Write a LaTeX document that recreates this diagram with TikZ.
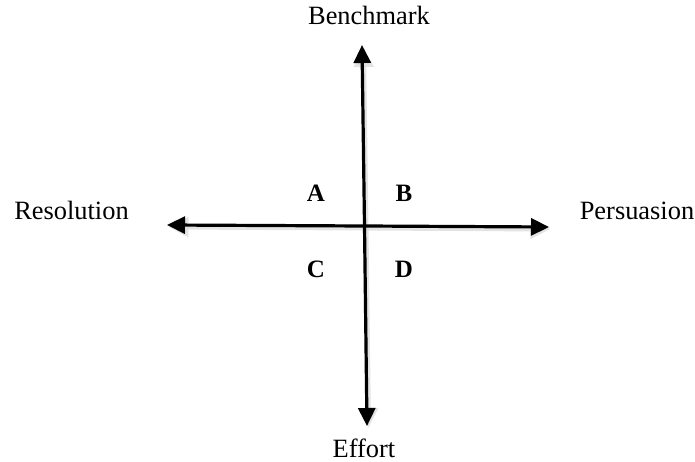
\documentclass[tikz,border=0pt]{standalone}
\usepackage{fontspec}
\setmainfont{Liberation Serif}
\usetikzlibrary{arrows.meta}
\begin{document}
\begin{tikzpicture}[x=1pt,y=-1pt,
  lbl/.style={anchor=base,inner sep=0pt,font=\fontsize{26.4}{30}\selectfont},
  quad/.style={anchor=base,inner sep=0pt,font=\fontsize{25}{29}\selectfont\bfseries},
  axis/.style={line width=3.2pt,-{Triangle[length=18pt,width=17pt]}},
  axshadow/.style={line width=5pt,draw=black!18,opacity=0.6,-{Triangle[length=20pt,width=19pt]}}]
\useasboundingbox (0,0) rectangle (695,462);
\coordinate (c) at (364.5,226);
\coordinate (top) at (362,45);
\coordinate (bot) at (367,426);
\coordinate (lft) at (167,225);
\coordinate (rgt) at (549,227);
% soft shadows
\draw[axshadow] ([shift={(1.5,2)}]c) -- ([shift={(1.5,2)}]top);
\draw[axshadow] ([shift={(1.5,2)}]c) -- ([shift={(1.5,2)}]bot);
\draw[axshadow] ([shift={(1.5,2)}]c) -- ([shift={(1.5,2)}]lft);
\draw[axshadow] ([shift={(1.5,2)}]c) -- ([shift={(1.5,2)}]rgt);
% axes
\draw[axis] (c) -- (top);
\draw[axis] (c) -- (bot);
\draw[axis] (c) -- (lft);
\draw[axis] (c) -- (rgt);
% labels
\node[lbl] (bench) at (369,25) {Benchmark};
\node[lbl] (eff) at (364,457) {Effort};
\node[lbl] (res) at (71.5,219) {Resolution};
\node[lbl] (pers) at (637,219) {Persuasion};
\node[quad] (A) at (316,202) {A};
\node[quad] (B) at (404,202) {B};
\node[quad] (C) at (316,277) {C};
\node[quad] (D) at (404,277) {D};
\end{tikzpicture}
\end{document}
